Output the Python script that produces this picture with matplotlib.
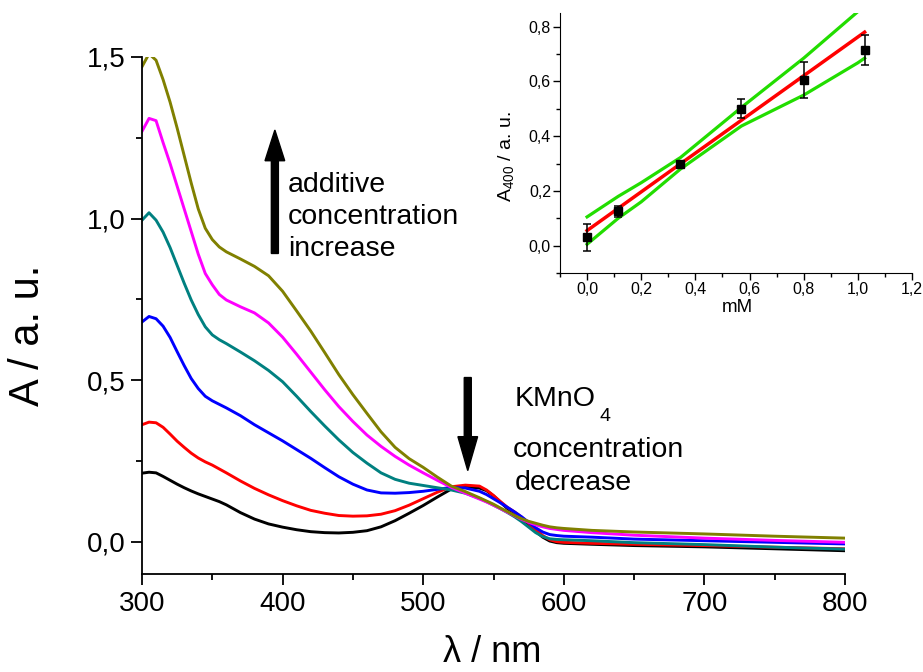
import numpy as np
import matplotlib
matplotlib.use("Agg")
import matplotlib.pyplot as plt
from matplotlib.ticker import MultipleLocator, FuncFormatter

plt.rcParams['font.family'] = ['Liberation Sans', 'DejaVu Sans']

# UV-vis spectra
wavelength = [300, 305, 310, 315, 320, 325, 330, 335, 340, 345, 350, 355, 360, 370, 380, 390,
              400, 410, 420, 430, 440, 450, 460, 470, 480, 490, 500, 510, 520, 530, 540, 545,
              550, 555, 560, 565, 570, 575, 580, 585, 590, 595, 600, 620, 650, 700, 750, 800]
abs_black = [0.212, 0.215, 0.213, 0.202, 0.190, 0.178, 0.167, 0.157, 0.148, 0.140, 0.132, 0.124,
             0.114, 0.090, 0.070, 0.055, 0.045, 0.037, 0.031, 0.028, 0.027, 0.029, 0.034, 0.046,
             0.065, 0.088, 0.112, 0.138, 0.163, 0.170, 0.166, 0.158, 0.142, 0.122, 0.102, 0.088,
             0.072, 0.052, 0.032, 0.014, 0.002, -0.003, -0.005, -0.008, -0.012, -0.016, -0.022, -0.028]
abs_red = [0.362, 0.370, 0.368, 0.354, 0.333, 0.311, 0.292, 0.274, 0.259, 0.247, 0.237, 0.225,
           0.213, 0.188, 0.165, 0.145, 0.127, 0.111, 0.097, 0.088, 0.081, 0.079, 0.080, 0.085,
           0.096, 0.113, 0.133, 0.153, 0.170, 0.175, 0.172, 0.160, 0.143, 0.124, 0.106, 0.092,
           0.076, 0.057, 0.037, 0.019, 0.006, 0.000, -0.002, -0.005, -0.008, -0.012, -0.017, -0.022]
abs_blue = [0.680, 0.697, 0.690, 0.667, 0.632, 0.588, 0.545, 0.505, 0.474, 0.450, 0.436, 0.425,
            0.414, 0.390, 0.362, 0.337, 0.312, 0.285, 0.258, 0.229, 0.201, 0.178, 0.160, 0.151,
            0.150, 0.152, 0.156, 0.162, 0.168, 0.166, 0.156, 0.146, 0.133, 0.120, 0.106, 0.092,
            0.077, 0.060, 0.043, 0.030, 0.022, 0.019, 0.017, 0.014, 0.008, 0.003, -0.002, -0.007]
abs_teal = [0.995, 1.018, 0.995, 0.958, 0.910, 0.855, 0.800, 0.748, 0.703, 0.665, 0.640, 0.625,
            0.613, 0.587, 0.560, 0.530, 0.495, 0.450, 0.403, 0.358, 0.315, 0.276, 0.243, 0.213,
            0.193, 0.181, 0.174, 0.167, 0.160, 0.150, 0.134, 0.124, 0.113, 0.102, 0.090, 0.077,
            0.062, 0.045, 0.028, 0.016, 0.009, 0.007, 0.006, 0.003, -0.003, -0.009, -0.017, -0.023]
abs_magenta = [1.270, 1.310, 1.303, 1.235, 1.170, 1.100, 1.030, 0.960, 0.890, 0.830, 0.795, 0.765,
               0.748, 0.727, 0.708, 0.677, 0.633, 0.580, 0.525, 0.470, 0.418, 0.372, 0.330, 0.295,
               0.264, 0.237, 0.213, 0.190, 0.168, 0.150, 0.132, 0.123, 0.113, 0.102, 0.091, 0.080,
               0.069, 0.060, 0.052, 0.046, 0.041, 0.038, 0.035, 0.028, 0.020, 0.011, 0.004, -0.002]
abs_olive = [1.47, 1.51, 1.49, 1.43, 1.36, 1.28, 1.195, 1.11, 1.03, 0.97, 0.935, 0.912,
             0.897, 0.875, 0.852, 0.823, 0.775, 0.714, 0.652, 0.585, 0.517, 0.455, 0.397, 0.340,
             0.292, 0.257, 0.230, 0.200, 0.172, 0.155, 0.136, 0.126, 0.116, 0.104, 0.093, 0.081,
             0.071, 0.063, 0.057, 0.051, 0.046, 0.043, 0.041, 0.035, 0.030, 0.024, 0.017, 0.011]

# inset: A400 vs concentration
conc = [0.0, 0.115, 0.345, 0.57, 0.80, 1.025]
a400 = [0.030, 0.125, 0.300, 0.500, 0.605, 0.715]
a400_err = [0.050, 0.020, 0.010, 0.035, 0.065, 0.055]
fit_x = [0.0, 1.025]
fit_y = [0.055, 0.780]
band_x = [0.0, 0.115, 0.2, 0.345, 0.57, 0.8, 1.0, 1.025]
band_upper = [0.105, 0.180, 0.230, 0.322, 0.505, 0.685, 0.855, 0.875]
band_lower = [0.005, 0.100, 0.160, 0.280, 0.437, 0.550, 0.668, 0.685]

comma = FuncFormatter(lambda v, p: ('%.1f' % v).replace('.', ','))

fig = plt.figure(figsize=(9.23, 6.72), dpi=100)
ax = fig.add_axes([142/923, 1-574/672, 703/923, 517/672])

series = [(abs_black, 'black'), (abs_red, '#ff0000'), (abs_blue, '#0000ff'),
          (abs_teal, '#008080'), (abs_magenta, '#ff00ff'), (abs_olive, '#808000')]
for vals, c in series:
    ax.plot(wavelength, vals, color=c, lw=2.1)

ax.set_xlim(300, 800)
ax.set_ylim(-0.1, 1.5)
ax.spines['top'].set_visible(False)
ax.spines['right'].set_visible(False)
for s in ['left', 'bottom']:
    ax.spines[s].set_linewidth(1.3)
ax.xaxis.set_major_locator(MultipleLocator(100))
ax.xaxis.set_minor_locator(MultipleLocator(50))
ax.yaxis.set_major_locator(MultipleLocator(0.5))
ax.yaxis.set_minor_locator(MultipleLocator(0.25))
ax.yaxis.set_major_formatter(comma)
ax.tick_params(which='major', direction='out', length=8, width=1.3, labelsize=20, pad=4)
ax.tick_params(which='minor', direction='out', length=4.5, width=1.3)

fig.text(28/923, 1-335/672, 'A / a. u.', rotation=90, ha='center', va='center', fontsize=30)
fig.text(492/923, 10/672, 'λ / nm', ha='center', va='baseline', fontsize=26)

# arrows and notes
ax.arrow(394.5, 0.892, 0, 0.382, width=5, head_width=14, head_length=0.095,
         length_includes_head=True, color='black')
ax.arrow(531.7, 0.508, 0, -0.288, width=5, head_width=14, head_length=0.105,
         length_includes_head=True, color='black')
fig.text(288/923, 1-192/672, 'additive', fontsize=20.5, va='baseline')
fig.text(288/923, 1-224/672, 'concentration', fontsize=20.5, va='baseline')
fig.text(288/923, 1-256/672, 'increase', fontsize=20.5, va='baseline')
fig.text(515/923, 1-406/672, 'KMnO', fontsize=20.5, va='baseline')
fig.text(600/923, 1-421/672, '4', fontsize=14, va='baseline')
fig.text(513/923, 1-457/672, 'concentration', fontsize=20.5, va='baseline')
fig.text(515/923, 1-490/672, 'decrease', fontsize=20.5, va='baseline')

# inset
ins = fig.add_axes([560/923, 1-273/672, 352/923, 260/672])
ins.plot(band_x, band_upper, color='#22dd00', lw=2.3)
ins.plot(band_x, band_lower, color='#22dd00', lw=2.3)
ins.plot(fit_x, fit_y, color='#ff0000', lw=2.5)
ins.errorbar(conc, a400, yerr=a400_err, fmt='s', color='black', ms=6,
             elinewidth=1.1, capsize=3, capthick=1.1)
ins.set_xlim(-0.1, 1.2)
ins.set_ylim(-0.1, 0.85)
ins.spines['top'].set_visible(False)
ins.spines['right'].set_visible(False)
ins.xaxis.set_major_locator(MultipleLocator(0.2))
ins.xaxis.set_minor_locator(MultipleLocator(0.1))
ins.yaxis.set_major_locator(MultipleLocator(0.2))
ins.yaxis.set_minor_locator(MultipleLocator(0.1))
ins.xaxis.set_major_formatter(comma)
ins.yaxis.set_major_formatter(comma)
ins.tick_params(which='major', direction='out', length=5, width=1, labelsize=11.5, pad=1.5)
ins.tick_params(which='minor', direction='out', length=3, width=1)
fig.text(507/923, 1-157/672, r'A$_{\mathregular{400}}$ / a. u.', rotation=90,
         ha='center', va='center', fontsize=14)
fig.text(737/923, 1-308/672, 'mM', ha='center', va='center', fontsize=13.5)

fig.savefig('out.png', dpi=100)
